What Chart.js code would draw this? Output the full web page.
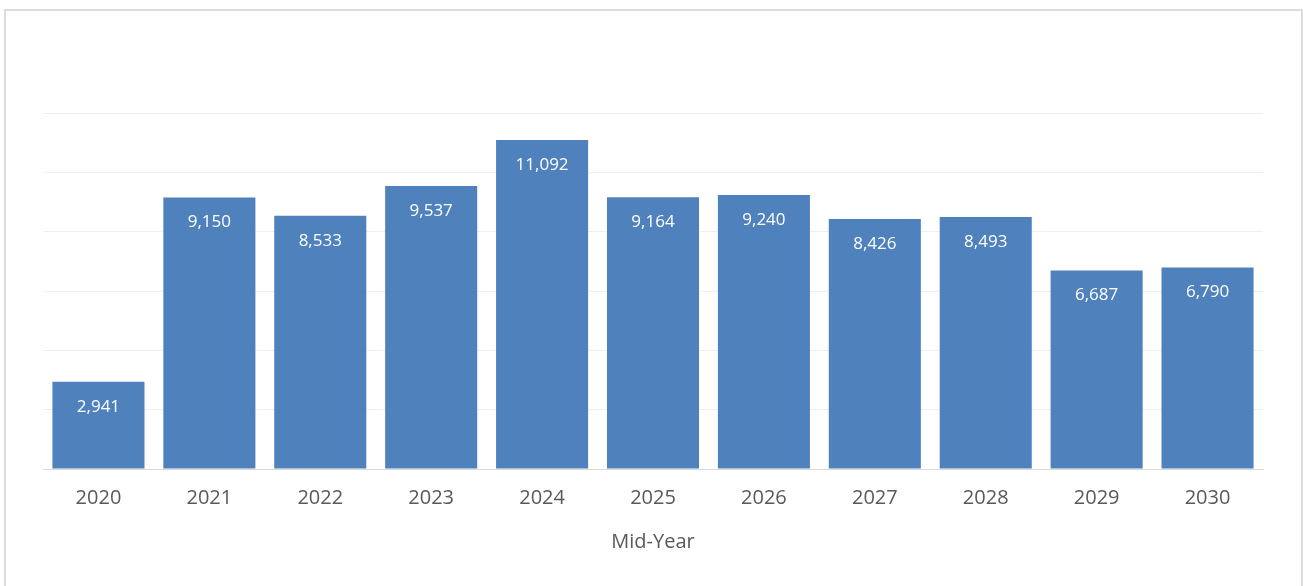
<!DOCTYPE html>
<html>
<head>
<meta charset="utf-8">
<script src="https://cdn.jsdelivr.net/npm/chart.js@4.4.1/dist/chart.umd.min.js"></script>
<style>
    html, body { margin: 0; padding: 0; background: #fff; overflow: hidden; }
    #frame {
        position: absolute; left: 4px; top: 9px;
        width: 1295px; height: 600px;
        border: 2px solid #dcdcdc;
        box-sizing: content-box;
    }
    #wrap { position: absolute; left: 0; top: 0; width: 1293px; height: 575px; }
</style>
</head>
<body>
<div id="frame"><div id="wrap"><canvas id="midYearChart"></canvas></div></div>
<script>
// Mid-year values
const years = ['2020', '2021', '2022', '2023', '2024', '2025', '2026', '2027', '2028', '2029', '2030'];
const values = [2941, 9150, 8533, 9537, 11092, 9164, 9240, 8426, 8493, 6687, 6790];

const FONT = "'Open Sans', sans-serif";

// labels inside the top of each bar
const barValueLabels = {
    id: 'barValueLabels',
    afterDatasetsDraw(chart) {
        const ctx = chart.ctx;
        const meta = chart.getDatasetMeta(0);
        ctx.save();
        ctx.fillStyle = '#ffffff';
        ctx.font = '17px ' + FONT;
        ctx.textAlign = 'center';
        ctx.textBaseline = 'middle';
        meta.data.forEach((bar, i) => {
            ctx.fillText(values[i].toLocaleString('en-US'), bar.x, bar.y + 25);
        });
        ctx.restore();
    }
};

const ctx = document.getElementById('midYearChart');
window.chart = new Chart(ctx, {
    type: 'bar',
    data: {
        labels: years,
        datasets: [{
            data: values,
            backgroundColor: '#4f81bd',
            borderWidth: 0,
            categoryPercentage: 1,
            barPercentage: 0.83
        }]
    },
    options: {
        responsive: true,
        maintainAspectRatio: false,
        animation: false,
        layout: { padding: { left: 37, right: 36, top: 102, bottom: 32 } },
        plugins: {
            legend: { display: false },
            tooltip: { enabled: false }
        },
        scales: {
            x: {
                grid: { display: false },
                border: { color: '#d9d9d9', width: 1 },
                ticks: { color: '#595959', font: { family: FONT, size: 20 }, padding: 9 },
                title: {
                    display: true, text: 'Mid-Year', color: '#595959',
                    font: { family: FONT, size: 20 }, padding: { top: 11, bottom: 0 }
                }
            },
            y: {
                min: 0, max: 12000,
                ticks: { display: false, stepSize: 2000 },
                grid: { color: '#efefef', drawTicks: false },
                border: { display: false }
            }
        }
    },
    plugins: [barValueLabels]
});
</script>
</body>
</html>
